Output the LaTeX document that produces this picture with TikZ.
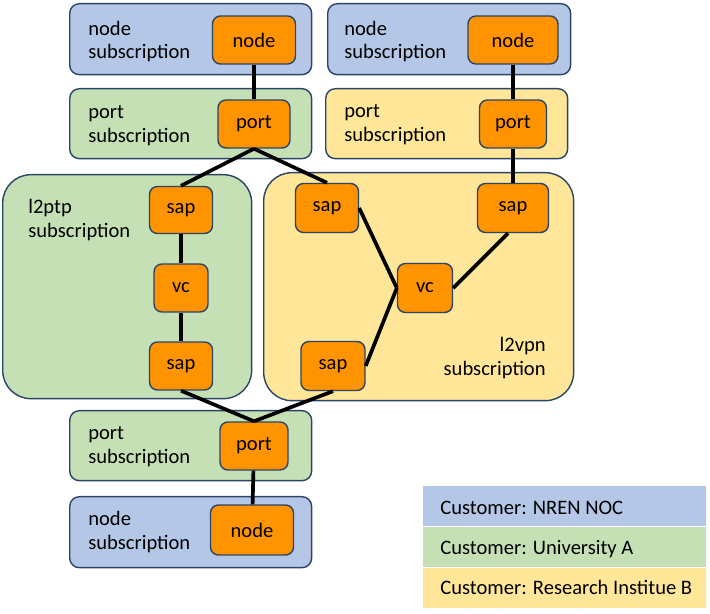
\documentclass[tikz,border=0pt]{standalone}
\usepackage{fontspec}
\setmainfont{Carlito}
\usetikzlibrary{positioning}

\definecolor{nocblue}{HTML}{B4C7E7}
\definecolor{unigreen}{HTML}{C5E0B4}
\definecolor{resyellow}{HTML}{FFE699}
\definecolor{elemorange}{HTML}{FF9400}
\definecolor{edgeblue}{HTML}{2A4468}

\begin{document}
\begin{tikzpicture}[
  x=0.02cm, y=-0.02cm,
  subbox/.style={
    draw=edgeblue,
    line width=0.8pt,
    rounded corners=5.5pt,
    anchor=north west,
    inner sep=0pt
  },
  bigbox/.style={
    subbox,
    rounded corners=16pt
  },
  elem/.style={
    draw=edgeblue,
    fill=elemorange,
    line width=0.8pt,
    rounded corners=4.5pt,
    inner sep=0pt,
    font=\fontsize{11.7pt}{13.6pt}\selectfont
  },
  sublabel/.style={
    anchor=west,
    align=left,
    inner sep=0pt,
    font=\fontsize{11.7pt}{13.6pt}\selectfont
  },
  legend/.style={
    anchor=north west,
    inner sep=0pt,
    minimum width=5.66cm,
    minimum height=0.8cm
  },
  link/.style={
    line width=2.1pt
  }
]
\useasboundingbox (0,0) rectangle (710,614);

% Abonnementen (containers)
\node[subbox, fill=nocblue, minimum width=4.84cm, minimum height=1.42cm] (nodesubA) at (69,3) {};
\node[subbox, fill=nocblue, minimum width=4.86cm, minimum height=1.42cm] (nodesubB) at (327,3) {};
\node[subbox, fill=unigreen, minimum width=4.84cm, minimum height=1.40cm] (portsubA) at (69,88) {};
\node[subbox, fill=resyellow, minimum width=4.84cm, minimum height=1.40cm] (portsubB) at (325,88) {};
\node[bigbox, fill=unigreen, minimum width=4.98cm, minimum height=4.48cm] (ptpsub) at (2,174) {};
\node[bigbox, fill=resyellow, minimum width=6.20cm, minimum height=4.56cm] (vpnsub) at (263,172) {};
\node[subbox, fill=unigreen, minimum width=4.84cm, minimum height=1.40cm] (portsubC) at (69,410) {};
\node[subbox, fill=nocblue, minimum width=4.84cm, minimum height=1.42cm] (nodesubC) at (69,496) {};

% Labels van de abonnementen
\node[sublabel] (nodelblA) at (88,41.5) {node\\subscription};
\node[sublabel] (nodelblB) at (344,41.5) {node\\subscription};
\node[sublabel] (portlblA) at (88,126) {port\\subscription};
\node[sublabel] (portlblB) at (344,125) {port\\subscription};
\node[sublabel] (ptplbl) at (28,220) {l2ptp\\subscription};
\node[sublabel, anchor=east, align=right] (vpnlbl) at (546,358) {l2vpn\\subscription};
\node[sublabel] (portlblC) at (88,447) {port\\subscription};
\node[sublabel] (nodelblC) at (88,532) {node\\subscription};

% Elementen
\node[elem, minimum width=1.66cm, minimum height=0.96cm] (nodeA) at (254,40) {node};
\node[elem, minimum width=1.80cm, minimum height=0.96cm] (nodeB) at (513,40) {node};
\node[elem, minimum width=1.44cm, minimum height=0.96cm] (portA) at (254,124) {port};
\node[elem, minimum width=1.34cm, minimum height=0.96cm] (portB) at (513,124) {port};

\node[elem, minimum width=1.26cm, minimum height=0.94cm] (ptpsapA) at (181,210) {sap};
\node[elem, minimum width=1.08cm, minimum height=0.96cm] (ptpvc) at (181,288) {vc};
\node[elem, minimum width=1.26cm, minimum height=0.96cm] (ptpsapB) at (181,366) {sap};

\node[elem, minimum width=1.26cm, minimum height=0.98cm] (vpnsapA) at (327,208) {sap};
\node[elem, minimum width=1.42cm, minimum height=0.98cm] (vpnsapB) at (513,208) {sap};
\node[elem, minimum width=1.10cm, minimum height=0.98cm] (vpnvc) at (425,288) {vc};
\node[elem, minimum width=1.28cm, minimum height=0.98cm] (vpnsapC) at (333,366) {sap};

\node[elem, minimum width=1.36cm, minimum height=0.96cm] (portC) at (254,446) {port};
\node[elem, minimum width=1.66cm, minimum height=1.00cm] (nodeC) at (252,530) {node};

% Verbindingen
\draw[link] (nodeA) -- (portA);
\draw[link] (nodeB) -- (portB);
\draw[link] (portB) -- (vpnsapB);
\draw[link] (portA.south) -- (ptpsapA.north);
\draw[link] (portA.south) -- (vpnsapA.north);
\draw[link] (ptpsapA) -- (ptpvc);
\draw[link] (ptpvc) -- (ptpsapB);
\draw[link] (vpnsapA.east) -- (vpnvc.west);
\draw[link] (vpnvc.west) -- (vpnsapC.east);
\draw[link] ([xshift=-0.1cm]vpnsapB.south) -- (vpnvc.east);
\draw[link] (ptpsapB.south) -- (portC.north);
\draw[link] (vpnsapC.south) -- (portC.north);
\draw[link] (portC) -- (nodeC);

% Legenda
\node[legend, fill=nocblue] (legnoc) at (423,486) {};
\node[legend, fill=unigreen, below=0pt of legnoc] (leguni) {};
\node[legend, fill=resyellow, below=0pt of leguni] (legres) {};
\node[sublabel, anchor=west] (legnoctxt) at ([xshift=0.34cm,yshift=-1pt]legnoc.west) {Customer: NREN NOC};
\node[sublabel, anchor=west] (legunitxt) at ([xshift=0.34cm,yshift=-1pt]leguni.west) {Customer: University A};
\node[sublabel, anchor=west] (legrestxt) at ([xshift=0.34cm]legres.west) {Customer: Research Institue B};
\end{tikzpicture}
\end{document}
